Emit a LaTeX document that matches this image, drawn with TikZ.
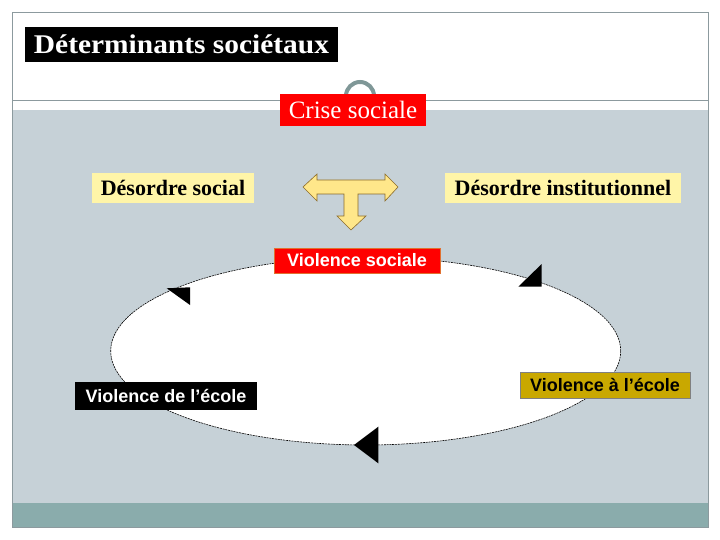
\documentclass[tikz,border=0pt]{standalone}
\usepackage{fontspec}
\setmainfont{Liberation Serif}
\setsansfont{Liberation Sans}
\usepackage{graphicx}
\usepackage{xcolor}
\definecolor{slideGray}{HTML}{C6D1D7}
\definecolor{bandTeal}{HTML}{8AACAC}
\definecolor{frameGray}{HTML}{8C9A9E}
\definecolor{arcGray}{HTML}{7F9797}
\definecolor{paleYellow}{HTML}{FFF5A8}
\definecolor{arrowYellow}{HTML}{FFE78A}
\definecolor{arrowBrown}{HTML}{8B6B2A}
\definecolor{boxRed}{HTML}{FF0000}
\definecolor{boxOrange}{HTML}{E07030}
\definecolor{boxGold}{HTML}{C9A800}

\begin{document}
\begin{tikzpicture}[x=1pt, y=-1pt,
  serifbox/.style={inner sep=0pt, font=\bfseries\fontsize{22}{24}\selectfont},
  sansbox/.style={inner sep=0pt, font=\sffamily\bfseries\fontsize{18}{20}\selectfont},
  tip/.style={fill=black, draw=none}]
  \useasboundingbox (0,0) rectangle (720,540);
  \fill[white] (0,0) rectangle (720,540);
  \fill[slideGray] (12,110) rectangle (708,503);
  \fill[bandTeal] (12,503) rectangle (708,527);
  \draw[frameGray, line width=0.8pt] (12,12) rectangle (708,527);
  \draw[frameGray, line width=0.8pt] (12,100) -- (708,100);
  \draw[arcGray, line width=4pt] (346,96) arc[start angle=180, end angle=360, radius=14];
  \node[fill=black, text=white, inner sep=0pt, minimum width=313, minimum height=35, font=\bfseries\fontsize{27}{30}\selectfont] (title) at (181.5,44.5) {\scalebox{1.09}[1]{Déterminants sociétaux}};
  \node[fill=boxRed, text=white, inner sep=0pt, minimum width=146, minimum height=32, font=\fontsize{25}{28}\selectfont] (crise) at (353,110) {Crise sociale};
  \node[serifbox, fill=paleYellow, minimum width=162, minimum height=30] (desSocial) at (173,188) {Désordre social};
  \node[serifbox, fill=paleYellow, minimum width=236, minimum height=30] (desInst) at (563,188) {Désordre institutionnel};
  \filldraw[fill=arrowYellow, draw=arrowBrown, line width=0.6pt]
    (303,187) -- (317,174) -- (317,180) -- (385,180) -- (385,174) -- (398,187)
    -- (385,201) -- (385,194) -- (358,194) -- (358,216) -- (366,216) -- (351,230)
    -- (337,216) -- (344,216) -- (344,194) -- (317,194) -- (317,201) -- cycle;
  \filldraw[fill=white, draw=black, line width=0.6pt, dash pattern=on 2pt off 0.8pt] (365.7,351) ellipse[x radius=255pt, y radius=94pt];
  \fill[tip] (166.7,288.3) -- (190,287.3) -- (190,305) -- cycle;
  \fill[tip] (541.7,264) -- (518.3,286.7) -- (541.7,286.7) -- cycle;
  \fill[tip] (354,445) -- (378.3,426.7) -- (378.3,463.3) -- cycle;
  \node[sansbox, fill=boxRed, draw=boxOrange, line width=1pt, text=white, minimum width=166, minimum height=25] (violSoc) at (357,260.5) {Violence sociale};
  \node[sansbox, fill=black, text=white, minimum width=182, minimum height=28] (violEcoleDe) at (166,396) {Violence de l’école};
  \node[sansbox, fill=boxGold, draw=gray, line width=0.8pt, text=black, minimum width=170, minimum height=26] (violEcoleA) at (605,385) {Violence à l’école};
\end{tikzpicture}
\end{document}
